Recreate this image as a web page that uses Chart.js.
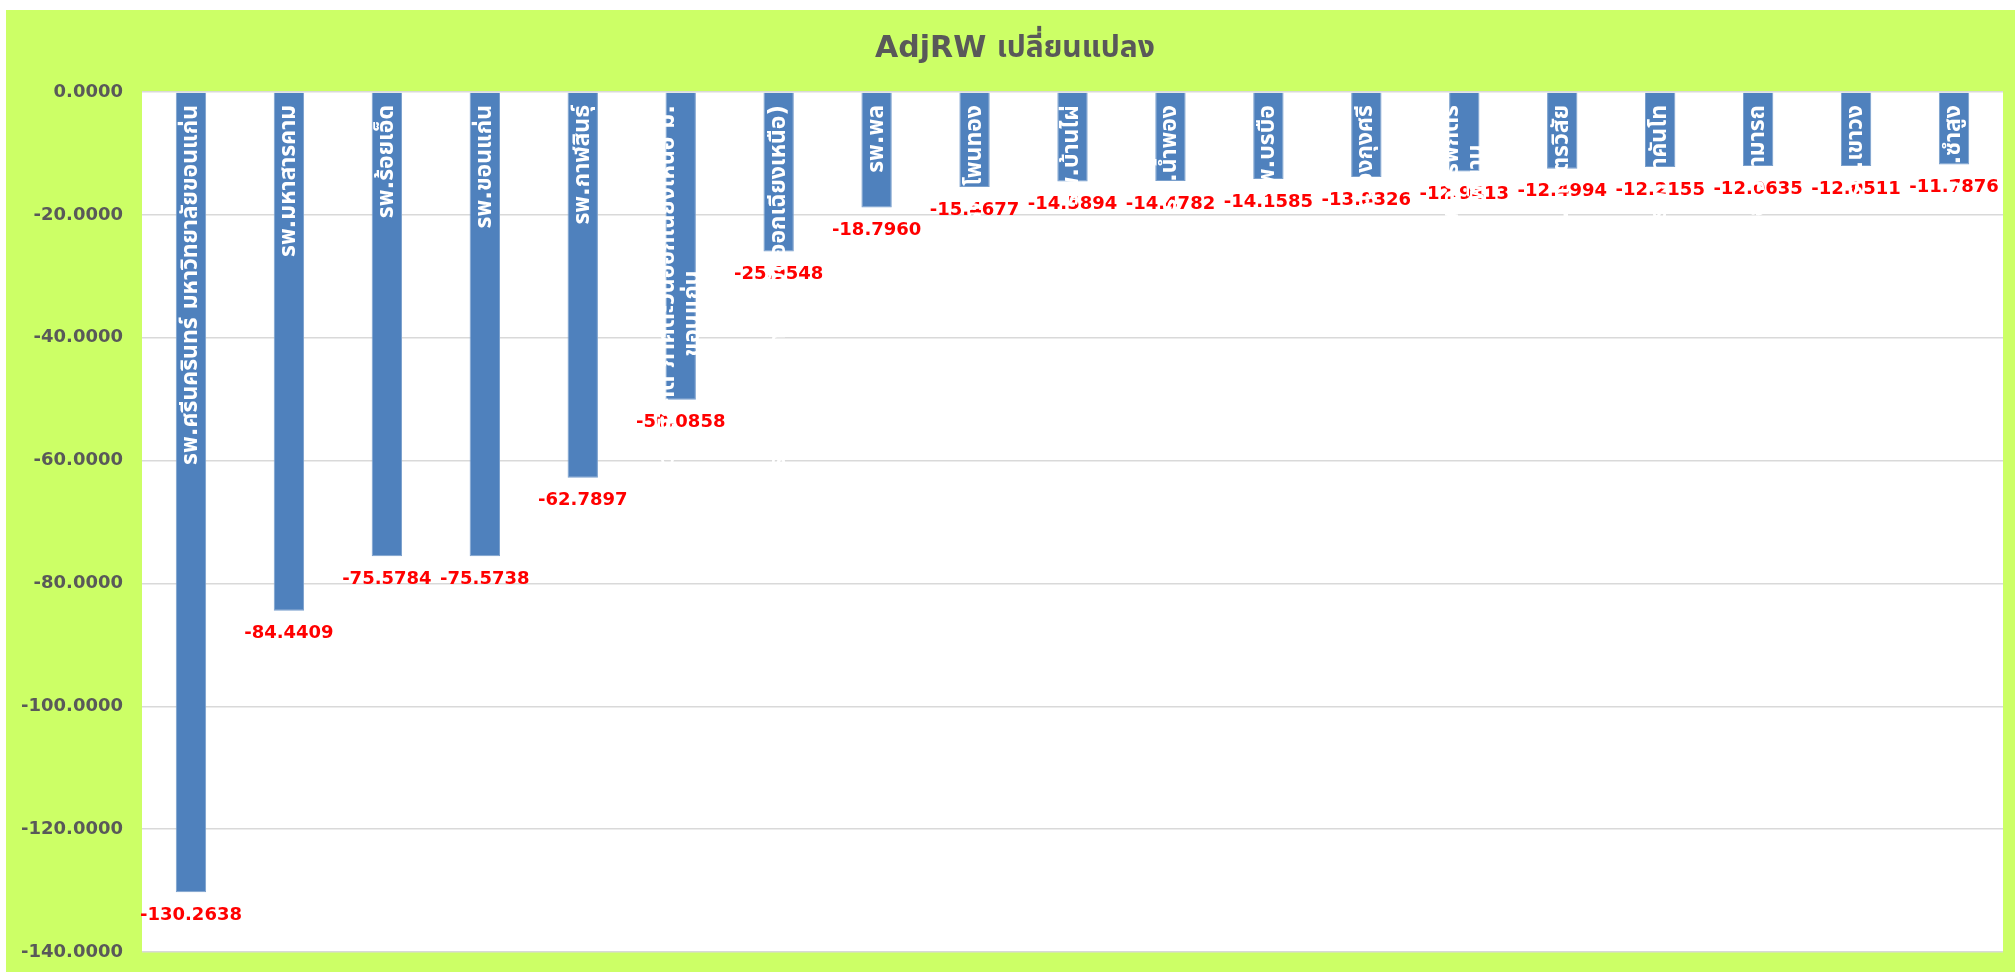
<!DOCTYPE html>
<html>
<head>
<meta charset="utf-8">
<script src="https://cdn.jsdelivr.net/npm/chart.js@4.4.1/dist/chart.umd.min.js"></script>
<style>
  html, body { margin: 0; padding: 0; background: #fff; }
  #wrap { position: absolute; left: 6px; top: 10px; width: 2009px; height: 962px; }
</style>
</head>
<body>
<div id="wrap"><canvas id="adjrw"></canvas></div>
<script>
// ชื่อโรงพยาบาล (แยกบรรทัดตามที่เห็นในภาพ)
const hospitals = [
  "รพ.ศรีนครินทร์ มหาวิทยาลัยขอนแก่น",
  "รพ.มหาสารคาม",
  "รพ.ร้อยเอ็ด",
  "รพ.ขอนแก่น",
  "รพ.กาฬสินธุ์",
  ["ศูนย์หัวใจสิริกิติ์ ภาคตะวันออกเฉียงเหนือ ม.", "ขอนแก่น"],
  "รพ.สิรินธร (ภาคตะวันออกเฉียงเหนือ)",
  "รพ.พล",
  "รพ.โพนทอง",
  "รพ.บ้านไผ่",
  "รพ.น้ำพอง",
  "รพ.บรบือ",
  "รพ.หนองกุงศรี",
  ["รพ.จตุรพักตร", "พิมาน"],
  "รพ.เกษตรวิสัย",
  "รพ.ท่าคันโท",
  "รพ.อาจสามารถ",
  "รพ.เขาวง",
  "รพ.ซำสูง"
];
const adjrwChange = [
  -130.2638, -84.4409, -75.5784, -75.5738, -62.7897, -50.0858, -25.9548,
  -18.7960, -15.4677, -14.5894, -14.4782, -14.1585, -13.8326, -12.9413,
  -12.4994, -12.2155, -12.0635, -12.0511, -11.7876
];
const yMin = -140, yMax = 0, yStep = 20;
const titleText = "AdjRW เปลี่ยนแปลง";

const FONT = "'DejaVu Sans', Tahoma, 'Noto Sans Thai', 'Noto Sans', sans-serif";
const GREEN = "#ccff66";

const bgPlugin = {
  id: "bg",
  beforeDraw(chart) {
    const {ctx, chartArea: a} = chart;
    ctx.save();
    ctx.fillStyle = GREEN;
    ctx.fillRect(0, 0, chart.width, chart.height);
    ctx.fillStyle = "#ffffff";
    ctx.fillRect(a.left, a.top, a.right - a.left, a.bottom - a.top);
    // ชื่อกราฟ
    ctx.font = "bold 30px " + FONT;
    ctx.fillStyle = "#595959";
    ctx.textAlign = "center";
    ctx.textBaseline = "middle";
    ctx.fillText(titleText, 1009, 39);
    ctx.restore();
  }
};

const labelPlugin = {
  id: "barLabels",
  afterDatasetsDraw(chart) {
    const {ctx, chartArea: a} = chart;
    const bars = chart.getDatasetMeta(0).data;
    ctx.save();
    // ค่าตัวเลขสีแดงใต้แท่ง
    ctx.font = "bold 18px " + FONT;
    ctx.fillStyle = "#ff0000";
    ctx.textAlign = "center";
    ctx.textBaseline = "middle";
    bars.forEach((b, i) => {
      ctx.fillText(adjrwChange[i].toFixed(4), b.x, b.y + 23);
    });
    // ชื่อ รพ. สีขาว หมุนแนวตั้ง
    ctx.font = "bold 23px " + FONT;
    ctx.fillStyle = "#ffffff";
    const lh = 25;
    bars.forEach((b, i) => {
      const lines = Array.isArray(hospitals[i]) ? hospitals[i] : [hospitals[i]];
      const w = Math.max(...lines.map(l => ctx.measureText(l).width));
      ctx.save();
      ctx.translate(b.x, a.top + 13);
      ctx.rotate(-Math.PI / 2);
      ctx.textAlign = "center";
      lines.forEach((l, k) => {
        ctx.fillText(l, -w / 2, (k - (lines.length - 1) / 2) * lh);
      });
      ctx.restore();
    });
    ctx.restore();
  }
};

new Chart(document.getElementById("adjrw"), {
  type: "bar",
  data: {
    labels: hospitals.map(h => Array.isArray(h) ? h.join("") : h),
    datasets: [{
      data: adjrwChange,
      backgroundColor: "#4f81bd",
      borderColor: "#7aa0cd",
      borderWidth: 1,
      categoryPercentage: 1,
      barPercentage: 0.31
    }]
  },
  options: {
    responsive: true,
    maintainAspectRatio: false,
    animation: false,
    layout: { padding: { left: 0, right: 12, top: 82, bottom: 20 } },
    plugins: {
      legend: { display: false },
      tooltip: { enabled: false },
      title: { display: false }
    },
    scales: {
      x: { display: false },
      y: {
        min: yMin,
        max: yMax,
        ticks: {
          stepSize: yStep,
          padding: 0,
          color: "#595959",
          font: { size: 18, weight: "bold", family: FONT },
          callback: v => Number(v).toFixed(4)
        },
        grid: { color: "#d9d9d9", lineWidth: 1.5, drawTicks: true, tickLength: 19, tickColor: "rgba(0,0,0,0)" },
        border: { display: false },
        afterFit(s) { s.width = 136; }
      }
    }
  },
  plugins: [bgPlugin, labelPlugin]
});
</script>
</body>
</html>
